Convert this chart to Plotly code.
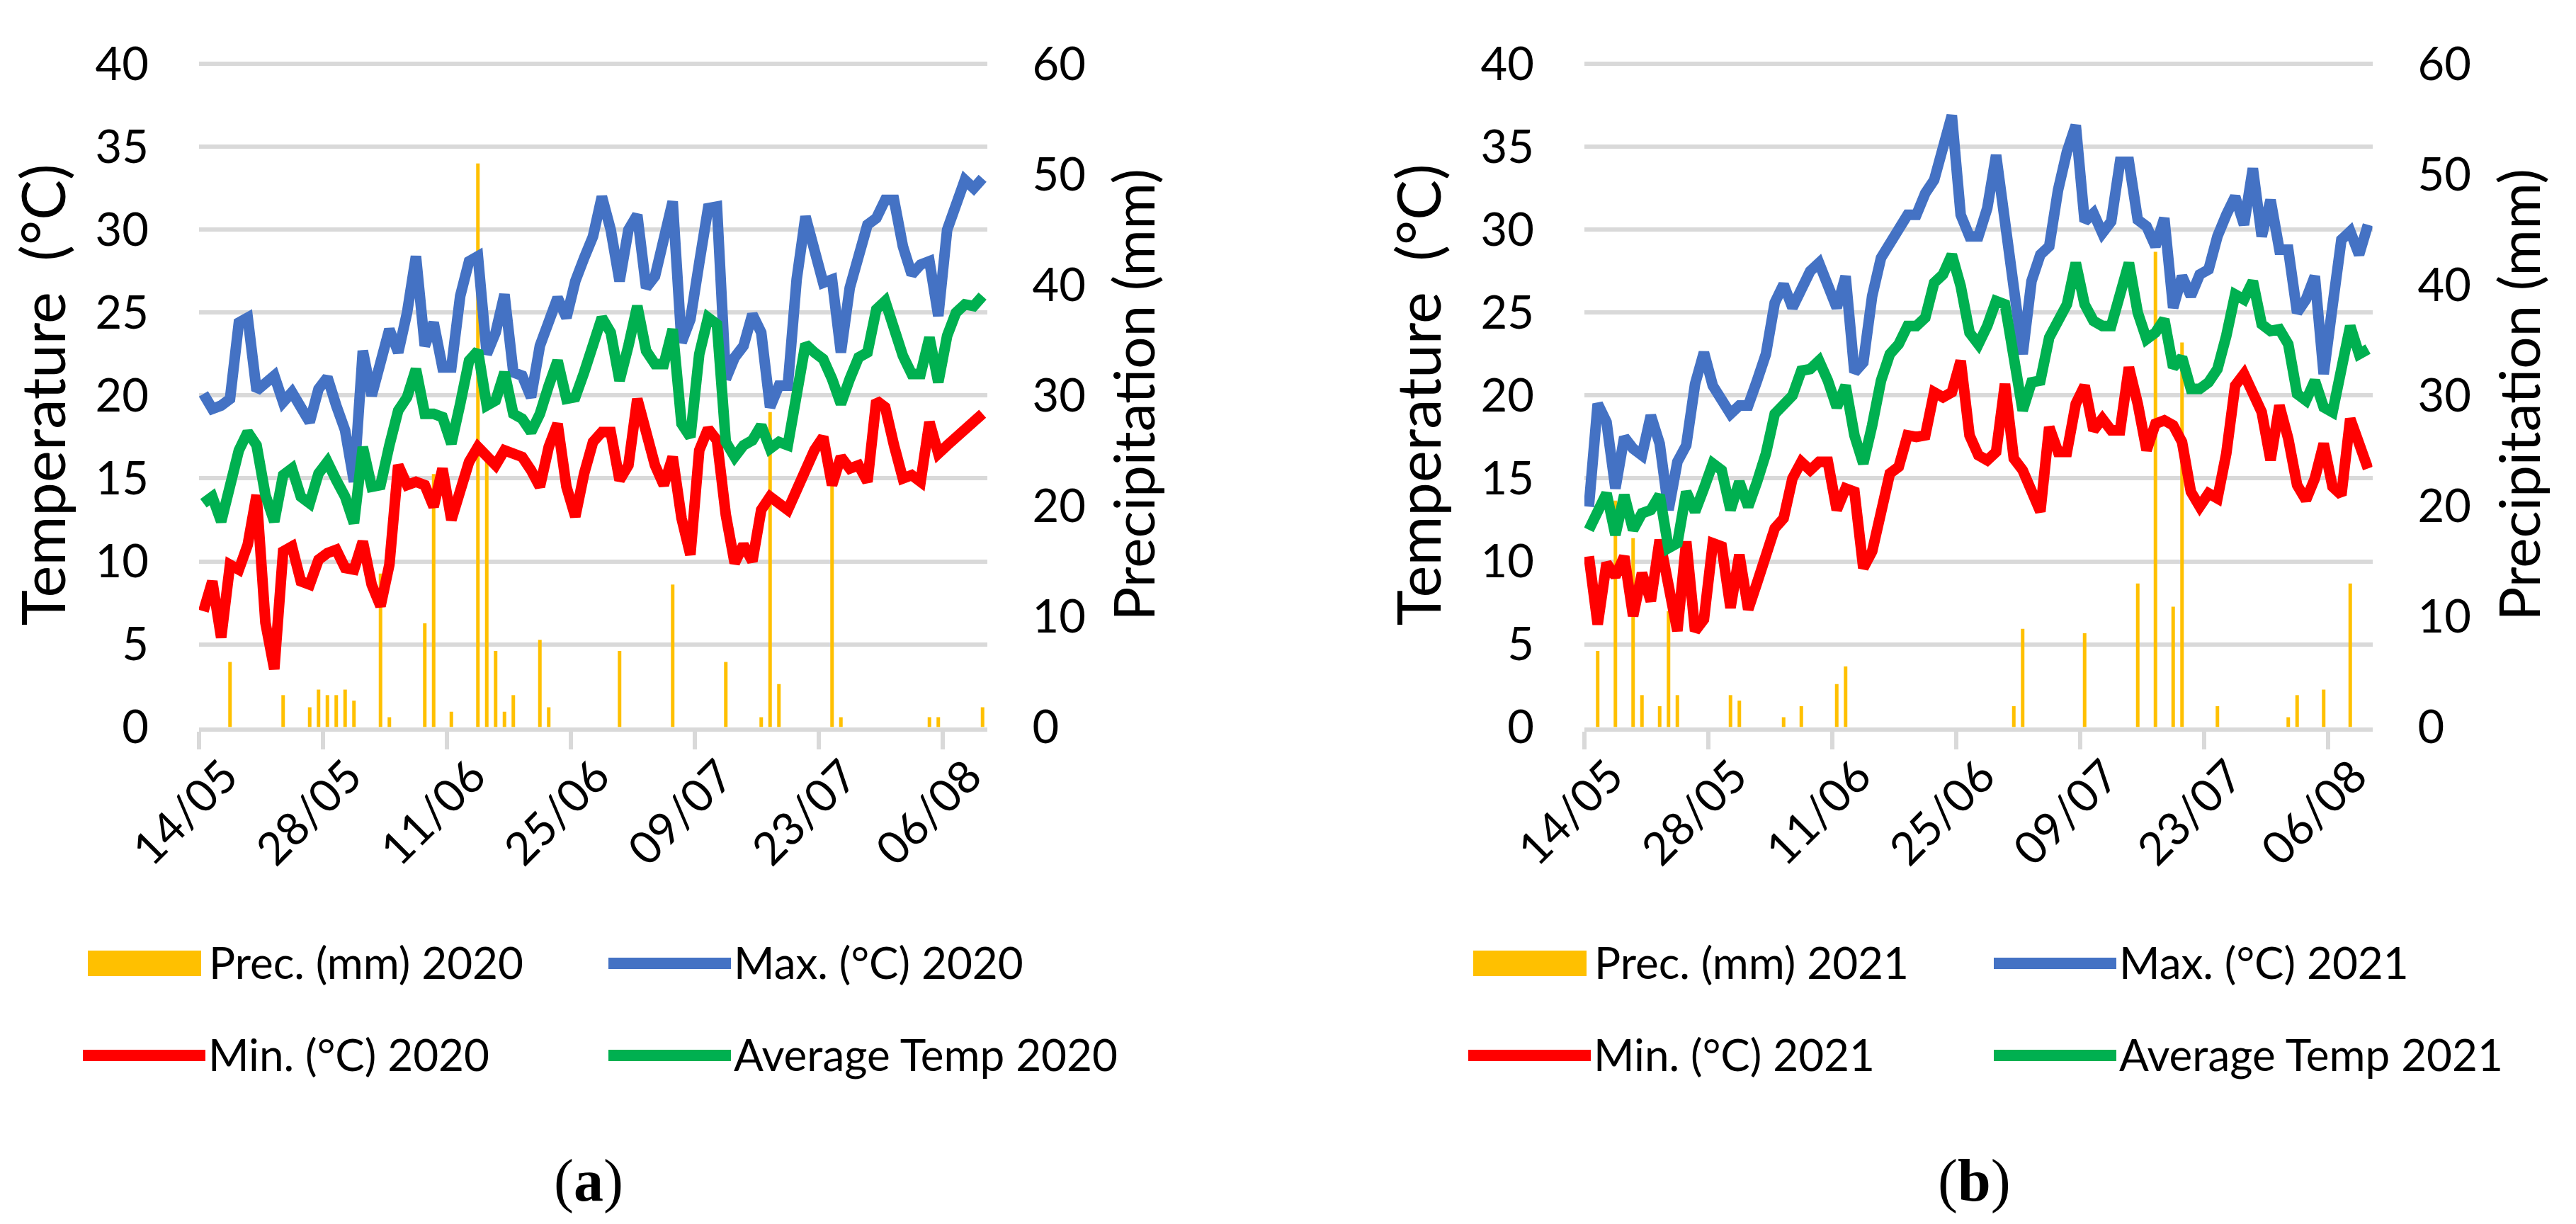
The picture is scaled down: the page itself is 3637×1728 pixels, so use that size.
import pandas as pd
import plotly.graph_objects as go

# ---------------- data ----------------
dates = pd.date_range("2020-05-14", "2020-08-10", freq="D")
day_labels = [d.strftime("%d/%m") for d in dates]          # 14/05 ... 10/08 (89 days)

prec_2020 = [0, 0, 0, 5.9, 0, 0, 0, 0, 0, 2.9, 0, 0, 1.8, 3.4, 2.9, 2.9, 3.4, 2.4, 0, 0,
             13.9, 0.9, 0, 0, 0, 9.4, 22.9, 0, 1.4, 0, 0, 51.0, 24.6, 6.9, 1.4, 2.9, 0, 0, 7.9, 1.8,
             0, 0, 0, 0, 0, 0, 0, 6.9, 0, 0, 0, 0, 0, 12.9, 0, 0, 0, 0, 0, 5.9,
             0, 0, 0, 0.9, 28.5, 3.9, 0, 0, 0, 0, 0, 23.3, 0.9, 0, 0, 0, 0, 0, 0, 0,
             0, 0, 0.9, 0.9, 0, 0, 0, 0, 1.8]
tmax_2020 = [20.1, 19.2, 19.4, 19.8, 24.4, 24.7, 20.3, 20.7, 21.2, 19.6, 20.2, 19.3, 18.4, 20.4, 21.1, 19.4, 17.9, 14.8, 22.7, 20.0,
             22.0, 24.0, 22.6, 25.0, 28.4, 23.0, 24.4, 21.7, 21.7, 26.0, 28.1, 28.4, 22.5, 23.8, 26.1, 21.4, 21.2, 19.9, 23.0, 24.4,
             25.9, 24.7, 26.9, 28.3, 29.6, 32.0, 30.0, 26.9, 30.0, 30.9, 26.5, 27.2, 29.4, 31.7, 23.2, 24.6, 28.0, 31.3, 31.4, 21.0,
             22.3, 23.0, 24.9, 23.8, 19.3, 20.6, 20.6, 27.0, 30.8, 28.6, 26.8, 27.0, 22.6, 26.5, 28.4, 30.3, 30.7, 31.8, 31.8, 29.0,
             27.3, 27.9, 28.1, 24.8, 30.0, 31.4, 33.0, 32.5, 33.1]
tmin_2020 = [7.0, 8.8, 5.4, 9.8, 9.5, 11.0, 14.0, 6.3, 3.5, 10.6, 10.9, 8.8, 8.6, 10.1, 10.5, 10.7, 9.6, 9.5, 11.2, 8.6,
             7.3, 9.8, 15.8, 14.6, 14.8, 14.6, 13.3, 15.6, 12.5, 14.1, 16.0, 16.9, 16.4, 15.8, 16.7, 16.5, 16.3, 15.5, 14.5, 16.9,
             18.3, 14.5, 12.7, 15.3, 17.2, 17.8, 17.8, 14.9, 15.8, 19.8, 17.8, 15.8, 14.6, 16.3, 12.6, 10.4, 16.7, 18.0, 17.3, 12.8,
             9.9, 11.0, 10.0, 13.1, 13.9, 13.5, 13.1, 14.3, 15.5, 16.7, 17.5, 14.6, 16.3, 15.6, 15.8, 14.8, 19.7, 19.3, 17.0, 15.0,
             15.2, 14.8, 18.4, 16.5, 17.0, 17.5, 18.0, 18.4, 18.9]
tavg_2020 = [13.5, 13.9, 12.4, 14.6, 16.7, 17.8, 17.0, 14.0, 12.4, 15.2, 15.6, 13.9, 13.5, 15.3, 16.0, 14.9, 13.9, 12.3, 16.9, 14.5,
             14.6, 17.0, 19.1, 19.9, 21.6, 18.9, 18.9, 18.7, 17.1, 19.5, 22.1, 22.7, 19.4, 19.7, 21.4, 18.9, 18.6, 17.8, 18.9, 20.6,
             22.1, 19.8, 19.9, 21.4, 22.9, 24.7, 23.8, 20.9, 23.0, 25.4, 22.7, 21.9, 21.9, 24.0, 18.3, 17.5, 22.5, 24.7, 24.3, 17.2,
             16.3, 17.0, 17.3, 18.2, 16.8, 17.2, 17.0, 20.2, 23.1, 22.6, 22.2, 21.0, 19.5, 21.0, 22.3, 22.6, 25.2, 25.7, 24.0, 22.4,
             21.3, 21.3, 23.5, 20.8, 23.6, 25.0, 25.5, 25.4, 26.0]

prec_2021 = [0, 6.9, 0, 20.5, 0, 17.1, 2.9, 0, 1.9, 10.5, 2.9, 0, 0, 0, 0, 0, 2.9, 2.4, 0, 0,
             0, 0, 0.9, 0, 1.9, 0, 0, 0, 3.9, 5.5, 0, 0, 0, 0, 0, 0, 0, 0, 0, 0,
             0, 0, 0, 0, 0, 0, 0, 0, 1.9, 8.9, 0, 0, 0, 0, 0, 0, 8.5, 0, 0, 0,
             0, 0, 13.0, 0, 43.0, 0, 10.9, 34.8, 0, 0, 0, 1.9, 0, 0, 0, 0, 0, 0, 0, 0.9,
             2.9, 0, 0, 3.4, 0, 0, 13.0, 0, 0]
tmax_2021 = [13.3, 19.5, 18.4, 14.4, 17.5, 16.8, 16.4, 18.8, 17.1, 13.1, 16.0, 17.0, 20.7, 22.6, 20.6, 19.6, 18.9, 19.4, 19.4, 20.9,
             22.5, 25.6, 26.7, 25.3, 26.3, 27.5, 28.0, 26.8, 25.3, 27.2, 21.4, 22.0, 26.0, 28.3, 29.2, 30.3, 30.9, 30.9, 32.2, 33.0,
             34.8, 36.9, 30.9, 29.6, 29.6, 31.3, 34.5, 30.5, 26.4, 22.5, 26.9, 28.5, 29.0, 32.4, 34.7, 36.3, 30.5, 31.0, 29.8, 30.5,
             34.1, 34.1, 30.6, 30.2, 29.0, 30.7, 25.3, 27.2, 26.0, 27.3, 27.6, 29.6, 30.9, 32.0, 30.3, 33.7, 29.6, 31.8, 28.8, 28.8,
             25.0, 25.8, 27.2, 21.3, 25.4, 29.4, 29.9, 28.5, 30.3]
tmin_2021 = [10.3, 6.2, 9.9, 9.1, 10.3, 6.7, 9.3, 7.6, 11.3, 8.6, 5.8, 11.2, 5.8, 6.5, 11.1, 10.9, 7.2, 10.4, 7.1, 8.7,
             10.4, 12.0, 12.6, 15.0, 16.0, 15.5, 16.0, 16.0, 13.1, 14.4, 14.2, 9.6, 10.6, 12.7, 15.3, 15.7, 17.6, 17.5, 17.6, 20.2,
             19.9, 20.2, 22.1, 17.6, 16.4, 16.1, 16.6, 20.7, 16.2, 15.5, 14.2, 13.0, 18.1, 16.6, 16.6, 19.5, 20.6, 17.9, 18.6, 17.9,
             17.9, 21.7, 19.5, 16.7, 18.3, 18.5, 18.2, 17.2, 14.2, 13.3, 14.1, 13.8, 16.5, 20.6, 21.3, 20.1, 19.0, 16.1, 19.4, 17.4,
             14.6, 13.7, 15.0, 17.1, 14.5, 14.0, 18.6, 17.1, 15.6]
tavg_2021 = [11.9, 12.9, 14.1, 11.6, 14.0, 11.9, 12.9, 13.1, 14.0, 10.8, 11.1, 14.2, 13.0, 14.4, 15.9, 15.5, 13.1, 14.8, 13.3, 14.8,
             16.5, 18.9, 19.5, 20.0, 21.5, 21.6, 22.1, 20.9, 19.3, 20.6, 17.6, 15.9, 18.2, 20.9, 22.5, 23.1, 24.2, 24.2, 24.7, 26.8,
             27.3, 28.5, 26.6, 23.8, 23.1, 24.2, 25.7, 25.5, 22.3, 19.1, 20.8, 20.9, 23.5, 24.5, 25.5, 28.0, 25.5, 24.5, 24.2, 24.2,
             26.4, 28.0, 25.0, 23.4, 23.8, 24.6, 21.7, 22.3, 20.4, 20.4, 20.8, 21.6, 23.6, 26.1, 25.8, 26.9, 24.3, 23.9, 24.0, 23.1,
             20.1, 19.7, 20.9, 19.3, 19.0, 21.5, 24.2, 22.5, 22.8]

series = {
    "2020": dict(prec=prec_2020, tmax=tmax_2020, tmin=tmin_2020, tavg=tavg_2020),
    "2021": dict(prec=prec_2021, tmax=tmax_2021, tmin=tmin_2021, tavg=tavg_2021),
}
panel_letters = ["a", "b"]
temp_max, prec_max = 40, 60

# ---------------- style ----------------
W, H = 3637, 1728
FONT = "Lato"
C_BAR, C_MAX, C_MIN, C_AVG = "#FFC000", "#4472C4", "#FF0000", "#00B050"
GRID = "#D9D9D9"
TICK_SIZE = 65
LW = 15
PAD = 1.0025          # tiny headroom so that the top grid line is drawn

x_domains = [[273 / W, 1385.5 / W], [2229 / W, 3341.5 / W]]
y_bottom, y_top40 = 1018.6, 82.3
y_top = y_bottom - (y_bottom - y_top40) * PAD
y_domain = [1 - y_bottom / H, 1 - y_top / H]

fig = go.Figure()
layout = dict(template="none", width=W, height=H, margin=dict(l=0, r=0, t=0, b=0),
              paper_bgcolor="white", plot_bgcolor="white", showlegend=False,
              font=dict(family=FONT, color="black"), barmode="overlay",
              annotations=[], shapes=[])


def px(xp, yp):
    return xp / W, 1 - yp / H


for p, year in enumerate(["2020", "2021"]):
    s = series[year]
    xa = "x" if p == 0 else "x2"
    yb = "y" if p == 0 else "y3"      # precipitation (base, right side)
    yt = "y2" if p == 0 else "y4"     # temperature (overlay, left side)

    names = dict(prec=f"Prec. (mm) {year}", tmax=f"Max. (°C) {year}",
                 tmin=f"Min. (°C) {year}", tavg=f"Average Temp {year}")

    fig.add_trace(go.Bar(x=day_labels, y=s["prec"], name=names["prec"],
                         marker=dict(color=C_BAR, line=dict(width=0)), width=0.4,
                         xaxis=xa, yaxis=yb))
    fig.add_trace(go.Scatter(x=day_labels, y=s["tmax"], name=names["tmax"], mode="lines",
                             line=dict(color=C_MAX, width=LW), xaxis=xa, yaxis=yt))
    fig.add_trace(go.Scatter(x=day_labels, y=s["tmin"], name=names["tmin"], mode="lines",
                             line=dict(color=C_MIN, width=LW), xaxis=xa, yaxis=yt))
    fig.add_trace(go.Scatter(x=day_labels, y=s["tavg"], name=names["tavg"], mode="lines",
                             line=dict(color=C_AVG, width=LW), xaxis=xa, yaxis=yt))

    xkey = "xaxis" if p == 0 else "xaxis2"
    ybkey = "yaxis" if p == 0 else "yaxis3"
    ytkey = "yaxis2" if p == 0 else "yaxis4"

    layout[xkey] = dict(domain=x_domains[p], anchor=yb, type="category", automargin=False,
                        range=[-0.5, len(day_labels) - 0.5],
                        tickmode="linear", tick0=0, dtick=14, tickson="boundaries",
                        ticks="outside", ticklen=25, tickwidth=6, tickcolor=GRID,
                        showline=True, linecolor=GRID, linewidth=6, showgrid=False, zeroline=False,
                        tickangle=-45, ticklabelshift=30,
                        tickfont=dict(size=64, family=FONT, color="black"))
    layout[ybkey] = dict(domain=y_domain, anchor=xa, side="right", range=[0, prec_max * PAD],
                         tickmode="linear", tick0=0, dtick=10, automargin=False,
                         showgrid=False, zeroline=False, showline=False, ticks="", ticklabelstandoff=63,
                         tickfont=dict(size=TICK_SIZE, family=FONT, color="black"),
                         title=dict(text="Precipitation (mm)", standoff=42,
                                    font=dict(size=80, family=FONT, color="black")))
    layout[ytkey] = dict(domain=y_domain, anchor=xa, overlaying=yb, side="left",
                         range=[0, temp_max * PAD], tickmode="linear", tick0=0, dtick=5, automargin=False,
                         showgrid=True, gridcolor=GRID, gridwidth=6, showline=False,
                         zeroline=False, ticks="", ticklabelstandoff=70,
                         tickfont=dict(size=TICK_SIZE, family=FONT, color="black"),
                         title=dict(text="Temperature \u00a0(°C)", standoff=27,
                                    font=dict(size=85, family=FONT, color="black")))

    # ---- legend (two rows x two columns, drawn as keys + labels) ----
    dx = 1956 * p
    rows = {1: 1352, 2: 1482}
    keys = [("prec", 1, 116, C_BAR), ("tmax", 1, 851, C_MAX),
            ("tmin", 2, 109, C_MIN), ("tavg", 2, 851, C_AVG)]
    for key, row, kx, col in keys:
        yc = rows[row]
        if key == "prec":
            x0, y0 = px(kx + dx, yc + 18)
            x1, y1 = px(kx + 160 + dx, yc - 18)
            layout["shapes"].append(dict(type="rect", xref="paper", yref="paper",
                                         x0=x0, y0=y0, x1=x1, y1=y1,
                                         fillcolor=col, line=dict(width=0)))
            tx = kx + 169
        else:
            x0, yy = px(kx + dx, yc)
            x1, _ = px(kx + 173 + dx, yc)
            layout["shapes"].append(dict(type="line", xref="paper", yref="paper",
                                         x0=x0, y0=yy, x1=x1, y1=yy,
                                         line=dict(color=col, width=16)))
            tx = kx + 175 if kx < 500 else kx + 175
        ax_, ay_ = px(tx + dx, yc - 2)
        layout["annotations"].append(dict(text=names[key], xref="paper", yref="paper",
                                          x=ax_, y=ay_, xanchor="left", yanchor="middle",
                                          showarrow=False,
                                          font=dict(size=62, family=FONT, color="black")))

    lx, ly = px(823 + dx, 1659)
    layout["annotations"].append(dict(text=f"(<b>{panel_letters[p]}</b>)", xref="paper", yref="paper",
                                      x=lx, y=ly, showarrow=False,
                                      xanchor="center", yanchor="middle",
                                      font=dict(family="Liberation Serif", size=84, color="black")))

fig.update_layout(**layout)
fig.write_html("out.html")
